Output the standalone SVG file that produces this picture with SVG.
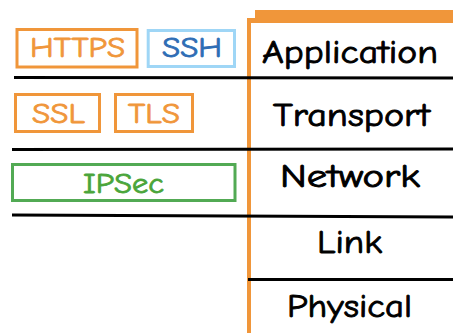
<svg xmlns="http://www.w3.org/2000/svg" width="453" height="333" viewBox="0 0 453 333">
  <style>
    text { font-family: "Comic Sans MS", "Comic Neue", "DejaVu Sans", sans-serif; stroke-linejoin: round; }
    .layer { font-size: 33px; fill: #000; stroke: #000; stroke-width: 0.9; }
    .proto { font-size: 28px; stroke-width: 0.8; }
    .box { fill: #fff; stroke-width: 3; }
    .orange { stroke: #F0963A; }
    .orange-t { fill: #F0963A; stroke: #F0963A; }
    .blue { stroke: #9FD6F6; }
    .blue-t { fill: #2E6DB5; stroke: #2E6DB5; }
    .green { stroke: #52AA54; }
    .green-t { fill: #4AA53A; stroke: #4AA53A; }
    .rule { stroke: #000; stroke-width: 3; fill: none; }
  </style>
  <rect width="453" height="333" fill="#fff"/>

  <!-- stack frame -->
  <g id="stack-frame">
    <path d="M247,18 L255,18 L255,10 L453,10 L453,23 L251,23 L251,333 L247,333 Z" fill="#F0963A"/>
  </g>

  <!-- layer separators -->
  <g id="connectors">
    <line class="rule" x1="14" y1="77.5" x2="453" y2="78"/>
    <line class="rule" x1="12" y1="149.5" x2="453" y2="149"/>
    <line class="rule" x1="12" y1="215" x2="453" y2="217"/>
    <line class="rule" x1="248" y1="279.5" x2="453" y2="279.5"/>
  </g>

  <!-- protocol layers -->
  <g id="layer-application"><text class="layer" x="262" y="63" textLength="176" lengthAdjust="spacingAndGlyphs">Application</text></g>
  <g id="layer-transport"><text class="layer" x="273" y="126" textLength="157" lengthAdjust="spacingAndGlyphs">Transport</text></g>
  <g id="layer-network"><text class="layer" x="280" y="187" textLength="140" lengthAdjust="spacingAndGlyphs">Network</text></g>
  <g id="layer-link"><text class="layer" x="317" y="253" textLength="65" lengthAdjust="spacingAndGlyphs">Link</text></g>
  <g id="layer-physical"><text class="layer" x="287" y="317" textLength="125" lengthAdjust="spacingAndGlyphs">Physical</text></g>

  <!-- security protocols -->
  <g id="https">
    <rect class="box orange" x="17" y="29.5" width="120" height="37.5"/>
    <text class="proto orange-t" x="30" y="57" textLength="95" lengthAdjust="spacingAndGlyphs">HTTPS</text>
  </g>
  <g id="ssh">
    <rect class="box blue" x="148.2" y="30.5" width="86.3" height="36"/>
    <text class="proto blue-t" x="162" y="57" textLength="60" lengthAdjust="spacingAndGlyphs">SSH</text>
  </g>
  <g id="ssl">
    <rect class="box orange" x="15.5" y="94.5" width="84" height="37"/>
    <text class="proto orange-t" x="32" y="123" textLength="53" lengthAdjust="spacingAndGlyphs">SSL</text>
  </g>
  <g id="tls">
    <rect class="box orange" x="115.5" y="94.5" width="77" height="37"/>
    <text class="proto orange-t" x="128" y="123" textLength="52" lengthAdjust="spacingAndGlyphs">TLS</text>
  </g>
  <g id="ipsec">
    <rect class="box green" x="12.5" y="164.5" width="222.5" height="36"/>
    <text class="proto green-t" x="83" y="193" textLength="81" lengthAdjust="spacingAndGlyphs">IPSec</text>
  </g>
</svg>
